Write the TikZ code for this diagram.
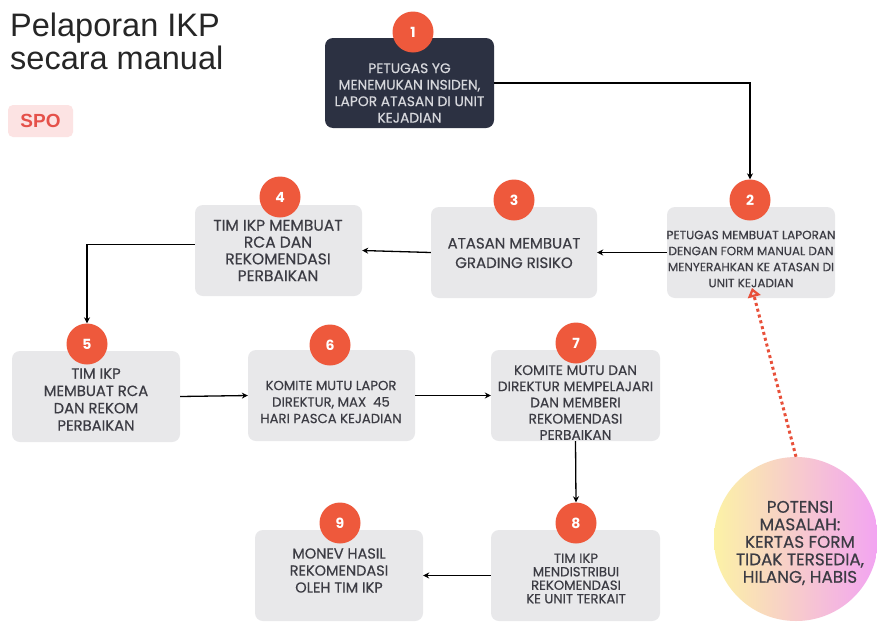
\documentclass[tikz,border=0pt]{standalone}
\usepackage{fontspec}
\setmainfont{Liberation Sans}
\newfontfamily\boxfont[FakeBold=0.5]{Poppins}
\newfontfamily\numfont{Poppins}
\usetikzlibrary{arrows.meta,calc}
\definecolor{boxgray}{HTML}{E8E8EA}
\definecolor{darkbox}{HTML}{2C3142}
\definecolor{numred}{HTML}{EE593C}
\definecolor{txtgray}{HTML}{3C3C44}
\definecolor{lighttxt}{HTML}{D6D7DC}
\definecolor{spopink}{HTML}{FCE3E3}
\definecolor{spored}{HTML}{E5514A}
\definecolor{dotred}{HTML}{E8503A}
\definecolor{gyellow}{HTML}{FCF2A6}
\definecolor{gpink}{HTML}{F8BED6}
\definecolor{gmag}{HTML}{F2A4F2}
\tikzset{
  stepbox/.style={rounded corners=8pt, fill=boxgray, draw=none, minimum width=168pt, minimum height=91pt, inner sep=0pt},
  numcirc/.style={circle, fill=numred, draw=none, minimum size=41pt, inner sep=0pt, text=white, font=\numfont\bfseries\fontsize{14}{14}\selectfont},
  steptxt/.style={align=center, text=txtgray, inner sep=0pt},
  titletxt/.style={anchor=base west, inner sep=0pt, text=black!85, font=\fontsize{32.5}{33}\selectfont},
  flow/.style={draw=black, line width=1.3pt, -{Stealth[length=6pt,width=6pt]}},
}
\begin{document}
\begin{tikzpicture}[x=1pt,y=-1pt]
\useasboundingbox[fill=white] (0,0) rectangle (877,624);

% title
\node[titletxt] (title1) at (10,36) {Pelaporan IKP};
\node[titletxt] (title2) at (10,69) {secara manual};
\node[rounded corners=5pt, fill=spopink, minimum width=65pt, minimum height=32pt, inner sep=0pt, text=spored, font=\bfseries\fontsize{19}{19}\selectfont] (spo) at (40.5,121) {SPO};

% boxes
\node[stepbox, fill=darkbox, minimum width=169pt, minimum height=90pt] (n1) at (409.5,83) {};
\node[stepbox] (n2) at (751,252.5) {};
\node[stepbox, minimum width=166pt] (n3) at (514,252.5) {};
\node[stepbox, minimum width=167pt] (n4) at (278.5,250.5) {};
\node[stepbox] (n5) at (96,396.5) {};
\node[stepbox, minimum width=167pt] (n6) at (331.5,395.5) {};
\node[stepbox, minimum width=169pt] (n7) at (575.5,395.5) {};
\node[stepbox, minimum width=169pt] (n8) at (575.5,575.5) {};
\node[stepbox] (n9) at (339,575.5) {};

% texts
\node[steptxt, text=lighttxt, font=\boxfont\fontsize{13.8}{16.5}\selectfont] (t1) at (409.5,93) {PETUGAS YG\\MENEMUKAN INSIDEN,\\LAPOR ATASAN DI UNIT\\KEJADIAN};
\node[steptxt, font=\boxfont\fontsize{12}{16}\selectfont] (t2) at (751,259) {PETUGAS MEMBUAT LAPORAN\\DENGAN FORM MANUAL DAN\\MENYERAHKAN KE ATASAN DI\\UNIT KEJADIAN};
\node[steptxt, font=\boxfont\fontsize{15}{19.5}\selectfont] (t3) at (514,253) {ATASAN MEMBUAT\\GRADING RISIKO};
\node[steptxt, font=\boxfont\fontsize{15.5}{16.8}\selectfont] (t4) at (278,250.5) {TIM IKP MEMBUAT\\RCA DAN\\REKOMENDASI\\PERBAIKAN};
\node[steptxt, font=\boxfont\fontsize{14.8}{17.3}\selectfont] (t5) at (96,399.5) {TIM IKP\\MEMBUAT RCA\\DAN REKOM\\PERBAIKAN};
\node[steptxt, font=\boxfont\fontsize{13.2}{16.5}\selectfont] (t6) at (331,402) {KOMITE MUTU LAPOR\\DIREKTUR, MAX\ \ 45\\HARI PASCA KEJADIAN};
\node[steptxt, font=\boxfont\fontsize{13.8}{16.2}\selectfont] (t7) at (575.5,402.5) {KOMITE MUTU DAN\\DIREKTUR MEMPELAJARI\\DAN MEMBERI\\REKOMENDASI\\PERBAIKAN};
\node[steptxt, font=\boxfont\fontsize{13.2}{13.5}\selectfont] (t8) at (576,578.5) {TIM IKP\\MENDISTRIBUI\\REKOMENDASI\\KE UNIT TERKAIT};
\node[steptxt, font=\boxfont\fontsize{14.5}{17}\selectfont] (t9) at (339,570.5) {MONEV HASIL\\REKOMENDASI\\OLEH TIM IKP};

% number circles
\node[numcirc] (c1) at (413,32) {1};
\node[numcirc] (c2) at (750,200) {2};
\node[numcirc] (c3) at (514,200) {3};
\node[numcirc] (c4) at (280,197) {4};
\node[numcirc] (c5) at (87,344) {5};
\node[numcirc] (c6) at (330,345) {6};
\node[numcirc] (c7) at (576,343) {7};
\node[numcirc] (c8) at (576,523) {8};
\node[numcirc] (c9) at (340,523) {9};

% potensi circle
\node[circle, minimum size=164pt, inner sep=0pt, draw=none, left color=gyellow, middle color=gpink, right color=gmag] (pot) at (796,539) {};
\node[steptxt, font=\boxfont\fontsize{16.8}{17.5}\selectfont] (tp) at (800,543) {POTENSI\\MASALAH:\\KERTAS FORM\\TIDAK TERSEDIA,\\HILANG, HABIS};

% connectors
\draw[flow] (n1.east) -| (c2.north);
\draw[flow] (n2.west) -- (n3.east);
\draw[flow] (n3.west) -- (n4.east);
\draw[flow] ([yshift=6pt]n4.west) -| (c5.north);
\draw[flow] (n5.east) -- (n6.west);
\draw[flow] (n6.east) -- (n7.west);
\draw[flow] (n7.south) -- (c8.north);
\draw[flow] (n8.west) -- (n9.east);

\coordinate (dtip) at (752,288);
\draw[draw=dotred, line width=3pt, dash pattern=on 3pt off 3pt, -{Triangle[length=9pt,width=13pt,open,line width=2.5pt]}] (pot.north) -- (dtip);
\end{tikzpicture}
\end{document}
